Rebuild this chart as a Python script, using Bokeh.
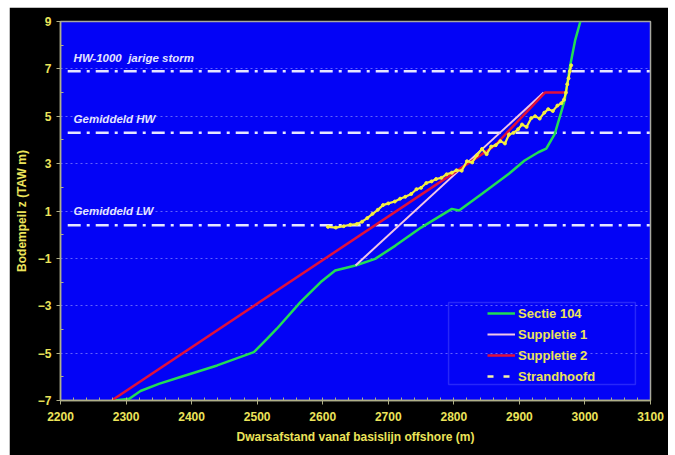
from bokeh.plotting import figure
from bokeh.models import (FixedTicker, Legend, LegendItem, Label, BoxAnnotation,
                          ColumnDataSource, Range1d)
from bokeh.embed import file_html
from bokeh.resources import INLINE

# ---------------- data ----------------
sectie_x = [2283, 2305, 2322, 2350, 2383, 2439, 2495, 2515, 2530, 2566, 2597, 2619,
            2650, 2680, 2711, 2750, 2797, 2808, 2843, 2884, 2908, 2929, 2941, 2954,
            2969, 2977, 2985, 2993]
sectie_y = [-7.0, -6.93, -6.6, -6.3, -6.01, -5.52, -4.96, -4.4, -3.97, -2.85, -2.0, -1.51,
            -1.3, -1.02, -0.46, 0.3, 1.09, 1.02, 1.73, 2.57, 3.13, 3.48, 3.63, 4.26,
            5.67, 7.07, 8.2, 9.0]

suppl1_x = [2650, 2937]
suppl1_y = [-1.3, 6.0]

suppl2_x = [2278, 2862, 2939, 2973]
suppl2_y = [-7.0, 3.75, 6.0, 6.0]

strand_x = [2608, 2620, 2632, 2642, 2652, 2660, 2668, 2676, 2684, 2692, 2700, 2710,
            2718, 2726, 2735, 2743, 2750, 2758, 2766, 2773, 2781, 2789, 2797, 2804,
            2812, 2820, 2828, 2835, 2843, 2850, 2857, 2864, 2871, 2878, 2884, 2891,
            2898, 2904, 2911, 2918, 2924, 2931, 2938, 2944, 2951, 2958, 2964, 2968,
            2971, 2973, 2975, 2977, 2979]
strand_y = [0.33, 0.30, 0.36, 0.42, 0.45, 0.55, 0.70, 0.88, 1.05, 1.25, 1.32, 1.40,
            1.52, 1.60, 1.72, 1.92, 1.98, 2.18, 2.25, 2.35, 2.40, 2.55, 2.62, 2.72,
            2.70, 3.10, 3.05, 3.35, 3.62, 3.40, 3.72, 3.78, 3.95, 3.85, 4.22, 4.30,
            4.45, 4.65, 4.55, 4.92, 5.00, 4.90, 5.15, 5.30, 5.22, 5.45, 5.55, 5.70,
            6.00, 6.35, 6.60, 6.90, 7.15]

ref_levels = [6.9, 4.3, 0.4]
ref_labels = ["HW-1000\u00a0 jarige storm", "Gemiddeld HW", "Gemiddeld LW"]

x_ticks = [2200, 2300, 2400, 2500, 2600, 2700, 2800, 2900, 3000, 3100]
x_minor = list(range(2200, 3101, 20))
y_ticks = [-7, -5, -3, -1, 1, 3, 5, 7, 9]
y_minor = [-6, -4, -2, 0, 2, 4, 6, 8]

# ---------------- styling ----------------
YEL = "#ece45a"
FONT = "Liberation Sans"

p = figure(width=659, height=448,
           x_range=Range1d(2200, 3100), y_range=Range1d(-7, 9),
           output_backend="svg", toolbar_location=None,
           min_border_left=51, min_border_right=18,
           min_border_top=14, min_border_bottom=55,
           background_fill_color="#0303f6", border_fill_color="#000000",
           outline_line_color="#a8a8a0", outline_line_width=1.5)
p.margin = (7, 0, 0, 9)

p.xgrid.grid_line_color = None
p.ygrid.grid_line_color = "#7a7aff"
p.ygrid.grid_line_dash = "2 3"
p.ygrid.grid_line_width = 1
p.ygrid.grid_line_alpha = 0.8

p.xaxis.ticker = FixedTicker(ticks=x_ticks, minor_ticks=x_minor)
p.yaxis.ticker = FixedTicker(ticks=y_ticks, minor_ticks=y_minor)

for ax in (p.xaxis, p.yaxis):
    ax.axis_line_color = "#b0b088"
    ax.axis_line_width = 1.5
    ax.major_tick_line_color = "#b0b088"
    ax.minor_tick_line_color = "#b0b088"
    ax.major_tick_in = 0
    ax.major_tick_out = 4
    ax.minor_tick_in = 3
    ax.minor_tick_out = 0
    ax.major_label_text_color = YEL
    ax.major_label_text_font = FONT
    ax.major_label_text_font_style = "bold"
    ax.major_label_text_font_size = "12px"
    ax.major_label_standoff = 5
    ax.axis_label_text_color = YEL
    ax.axis_label_text_font = FONT
    ax.axis_label_text_font_style = "bold"
    ax.axis_label_text_font_size = "12px"
    ax.axis_label_standoff = 6

p.xaxis.major_label_standoff = 7
p.xaxis.axis_label = "Dwarsafstand vanaf basislijn offshore (m)"
p.yaxis.axis_label = "Bodempeil z (TAW m)"

# reference levels (dash-dot) and their labels
ref_src = ColumnDataSource(dict(x0=[2211] * len(ref_levels), x1=[3100] * len(ref_levels),
                                y=ref_levels))
p.segment(x0="x0", x1="x1", y0="y", y1="y", source=ref_src,
          line_color="#e6e6ff", line_width=2.5, line_dash="13 6 3 6")
for lvl, txt in zip(ref_levels, ref_labels):
    p.add_layout(Label(x=2220, y=lvl + 0.58, text=txt, text_color="#e4e4ff",
                       text_font=FONT, text_font_style="bold italic",
                       text_font_size="11.5px", text_baseline="middle"))

# series
r_sectie = p.line(sectie_x, sectie_y, line_color="#22dd55", line_width=2.5)
r_s1 = p.line(suppl1_x, suppl1_y, line_color="#f2c6e6", line_width=2)
r_s2 = p.line(suppl2_x, suppl2_y, line_color="#e0103c", line_width=2.5)
r_strand = p.line(strand_x, strand_y, line_color="#f4f040", line_width=2.2)
p.scatter(strand_x, strand_y, size=3, color="#f4f040")
leg_src = ColumnDataSource(dict(x=[float("nan")], y=[float("nan")]))
r_strand_leg = p.line(x="x", y="y", source=leg_src, line_color="#f4f2a8",
                      line_width=2.5, line_dash="6 10")

# legend border
p.add_layout(BoxAnnotation(left=2792, right=3077, top=-2.86, bottom=-6.32,
                           fill_alpha=0, line_color="#7c7cff", line_width=1.5))

legend = Legend(items=[LegendItem(label="Sectie 104", renderers=[r_sectie]),
                       LegendItem(label="Suppletie 1", renderers=[r_s1]),
                       LegendItem(label="Suppletie 2", renderers=[r_s2]),
                       LegendItem(label="Strandhoofd", renderers=[r_strand_leg])],
                location=(427, 14), padding=0, spacing=1, margin=0,
                glyph_width=28, glyph_height=20, label_height=20, label_standoff=3,
                background_fill_alpha=0, border_line_alpha=0,
                label_text_font=FONT, label_text_font_style="bold",
                label_text_font_size="13px", label_text_color=YEL)
p.add_layout(legend)

open("out.html", "w").write(file_html(p, INLINE))
